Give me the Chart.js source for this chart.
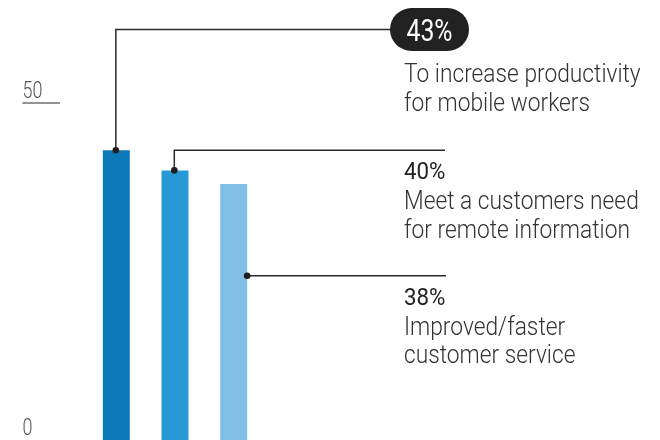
<!DOCTYPE html>
<html>
<head>
<meta charset="utf-8">
<script src="https://cdn.jsdelivr.net/npm/chart.js@4.4.1/dist/chart.umd.min.js"></script>
<style>
  html, body { margin: 0; padding: 0; background: #ffffff; }
  #wrap { width: 660px; height: 440px; position: relative; }
</style>
</head>
<body>
<div id="wrap"><canvas id="c" width="660" height="440"></canvas></div>
<script>
// Survey: reasons for deploying mobile solutions (share of respondents, %)
const categories = ['Productivity', 'Remote information', 'Customer service'];
const values = [43, 40, 38];
const valueLabels = ['43%', '40%', '38%'];
const descriptions = [
  ['To increase productivity', 'for mobile workers'],
  ['Meet a customers need', 'for remote information'],
  ['Improved/faster', 'customer service']
];
const yTicks = [0, 50];
const barColors = ['#0b78b8', '#2998d7', '#80c0e7'];

const FONT = 'Roboto, "Liberation Sans", sans-serif';
const CONDENSE = 0.91;

function drawText(ctx, text, x, y, size, weight, color, sx, align) {
  ctx.save();
  ctx.font = weight + ' ' + size + 'px ' + FONT;
  ctx.fillStyle = color;
  ctx.textBaseline = 'alphabetic';
  ctx.textAlign = 'left';
  let w = ctx.measureText(text).width * sx;
  let tx = x;
  if (align === 'center') tx = x - w / 2;
  ctx.translate(tx, y);
  ctx.scale(sx, 1);
  ctx.fillText(text, 0, 0);
  ctx.restore();
}

// Left-hand value ticks, label sitting above a short rule
const tickPlugin = {
  id: 'tickLabels',
  afterDraw(chart) {
    const ctx = chart.ctx;
    const y = chart.scales.y;
    yTicks.forEach(v => {
      const py = y.getPixelForValue(v);
      drawText(ctx, String(v), 22.5, py - 5.5, 23, 300, '#555555', 0.78, 'left');
      if (v !== 0) {
        ctx.save();
        ctx.strokeStyle = '#6e6e6e';
        ctx.lineWidth = 1.3;
        ctx.beginPath();
        ctx.moveTo(22.5, py);
        ctx.lineTo(60, py);
        ctx.stroke();
        ctx.restore();
      }
    });
  }
};

// Leader lines from each bar to its callout text
const calloutPlugin = {
  id: 'callouts',
  afterDraw(chart) {
    const ctx = chart.ctx;
    const bars = chart.getDatasetMeta(0).data;
    const textX = 404;
    const lineColor = '#2b2b2b';

    function leader(points) {
      ctx.save();
      ctx.strokeStyle = lineColor;
      ctx.lineWidth = 1.5;
      ctx.beginPath();
      ctx.moveTo(points[0][0], points[0][1]);
      for (let i = 1; i < points.length; i++) ctx.lineTo(points[i][0], points[i][1]);
      ctx.stroke();
      ctx.beginPath();
      ctx.fillStyle = '#1e1e1e';
      ctx.arc(points[0][0], points[0][1], 3.3, 0, Math.PI * 2);
      ctx.fill();
      ctx.restore();
    }

    // first bar: up from its top, across to the highlighted pill
    const b0 = bars[0];
    const pillY = 29.5, pillL = 390, pillR = 469, pillH = 43;
    leader([[b0.x - 0.5, b0.y], [b0.x - 0.5, pillY], [pillL + 2, pillY]]);
    ctx.save();
    ctx.fillStyle = '#222222';
    ctx.beginPath();
    ctx.roundRect(pillL, pillY - pillH / 2, pillR - pillL, pillH, pillH / 2);
    ctx.fill();
    ctx.restore();
    drawText(ctx, valueLabels[0], (pillL + pillR) / 2, 40.5, 31, 400, '#ffffff', 0.8, 'center');
    drawText(ctx, descriptions[0][0], textX, 82, 25, 300, '#333333', CONDENSE, 'left');
    drawText(ctx, descriptions[0][1], textX, 111, 25, 300, '#333333', CONDENSE, 'left');

    // second bar: up from its top, then across
    const b1 = bars[1];
    leader([[b1.x - 0.7, b1.y], [b1.x - 0.7, 150.3], [445, 150.3]]);
    drawText(ctx, valueLabels[1], textX, 179, 24, 400, '#222222', 0.93, 'left');
    drawText(ctx, descriptions[1][0], textX, 209, 25, 300, '#333333', CONDENSE, 'left');
    drawText(ctx, descriptions[1][1], textX, 238, 25, 300, '#333333', CONDENSE, 'left');

    // third bar: straight out from its right edge
    const b2 = bars[2];
    const rx = b2.x + b2.width / 2;
    leader([[rx, 275.7], [446, 275.7]]);
    drawText(ctx, valueLabels[2], textX, 305, 24, 400, '#222222', 0.93, 'left');
    drawText(ctx, descriptions[2][0], textX, 335, 25, 300, '#333333', CONDENSE, 'left');
    drawText(ctx, descriptions[2][1], textX, 363, 25, 300, '#333333', CONDENSE, 'left');
  }
};

new Chart(document.getElementById('c'), {
  type: 'bar',
  data: {
    labels: categories,
    datasets: [{
      data: values,
      backgroundColor: barColors,
      borderWidth: 0,
      categoryPercentage: 1,
      barPercentage: 0.46
    }]
  },
  options: {
    responsive: false,
    animation: false,
    devicePixelRatio: 1,
    layout: { padding: { left: 87, right: 397, top: 103, bottom: -1 } },
    plugins: { legend: { display: false }, tooltip: { enabled: false } },
    scales: {
      x: { display: false },
      y: { display: false, min: 0, max: 50 }
    }
  },
  plugins: [tickPlugin, calloutPlugin]
});
</script>
</body>
</html>
